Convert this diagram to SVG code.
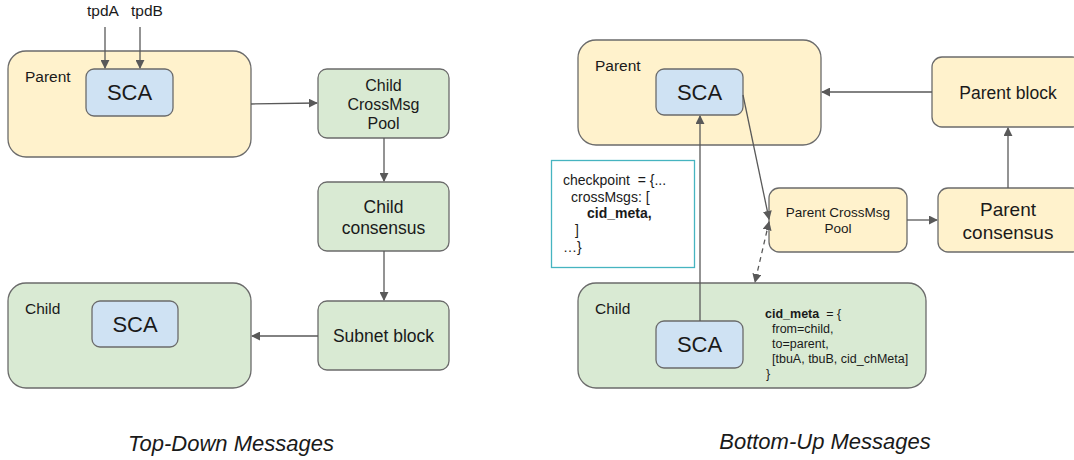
<svg xmlns="http://www.w3.org/2000/svg" width="1074" height="460" viewBox="0 0 1074 460">
  <defs>
    <marker id="arr" viewBox="0 0 10 10" refX="9" refY="5" markerWidth="9" markerHeight="9" markerUnits="userSpaceOnUse" orient="auto-start-reverse">
      <path d="M0,0 L10,5 L0,10 z" fill="#595959"/>
    </marker>
    <style>
      text { font-family: "Liberation Sans", Arial, sans-serif; fill: #1a1a1a; white-space: pre; }
      .yel { fill: #fff2cc; stroke: #6b6b6b; stroke-width: 1.3; }
      .grn { fill: #d9ead3; stroke: #6b6b6b; stroke-width: 1.3; }
      .blu { fill: #cfe2f3; stroke: #6b6b6b; stroke-width: 1.3; }
      .ln { fill: none; stroke: #595959; stroke-width: 1.3; }
      .dash { stroke-dasharray: 5 4; }
      .lbl { font-size: 15.5px; }
      .sca { font-size: 22px; text-anchor: middle; }
      .mid { text-anchor: middle; }
      .cap { font-size: 22px; font-style: italic; text-anchor: middle; }
      .code { font-size: 14px; }
      .b { font-weight: bold; }
    </style>
  </defs>

  <!-- Top-down side -->
  <g id="td-parent">
    <rect class="yel" x="8" y="51" width="243" height="106" rx="18"/>
    <text class="lbl" x="25" y="82">Parent</text>
  </g>
  <g id="td-parent-sca">
    <rect class="blu" x="86" y="69" width="87" height="47" rx="8"/>
    <text class="sca" x="129.5" y="100">SCA</text>
  </g>
  <g id="td-tpda"><text class="lbl mid" x="103" y="16">tpdA</text></g>
  <g id="td-tpdb"><text class="lbl mid" x="147" y="16">tpdB</text></g>
  <g id="td-pool">
    <rect class="grn" x="318" y="69" width="131" height="69" rx="9"/>
    <text class="mid" font-size="16" x="383.5" y="91">Child</text>
    <text class="mid" font-size="16" x="383.5" y="110">CrossMsg</text>
    <text class="mid" font-size="16" x="383.5" y="129">Pool</text>
  </g>
  <g id="td-consensus">
    <rect class="grn" x="318" y="182" width="131" height="69" rx="9"/>
    <text class="mid" font-size="17.5" x="383.5" y="213">Child</text>
    <text class="mid" font-size="17.5" x="383.5" y="234">consensus</text>
  </g>
  <g id="td-block">
    <rect class="grn" x="318" y="301" width="131" height="69" rx="9"/>
    <text class="mid" font-size="17.5" x="383.5" y="342">Subnet block</text>
  </g>
  <g id="td-child">
    <rect class="grn" x="8" y="283" width="243" height="105" rx="18"/>
    <text class="lbl" x="25" y="314">Child</text>
  </g>
  <g id="td-child-sca">
    <rect class="blu" x="92" y="301" width="86" height="46" rx="8"/>
    <text class="sca" x="135" y="332">SCA</text>
  </g>
  <g id="td-caption"><text class="cap" x="231" y="451">Top-Down Messages</text></g>

  <!-- Bottom-up side -->
  <g id="bu-parent">
    <rect class="yel" x="578" y="40" width="243" height="105" rx="18"/>
    <text class="lbl" x="595" y="71">Parent</text>
  </g>
  <g id="bu-parent-sca">
    <rect class="blu" x="656" y="69" width="87" height="46" rx="8"/>
    <text class="sca" x="699.5" y="100">SCA</text>
  </g>
  <g id="bu-parent-block">
    <rect class="yel" x="932" y="57" width="150" height="70" rx="10"/>
    <text class="mid" font-size="17.5" x="1008" y="99">Parent block</text>
  </g>
  <g id="bu-consensus">
    <rect class="yel" x="938" y="188" width="144" height="64" rx="10"/>
    <text class="mid" font-size="19" x="1008" y="216">Parent</text>
    <text class="mid" font-size="19" x="1008" y="239">consensus</text>
  </g>
  <g id="bu-pool">
    <rect class="yel" x="769" y="188" width="138" height="64" rx="10"/>
    <text class="mid" font-size="13.5" x="838" y="217">Parent CrossMsg</text>
    <text class="mid" font-size="13.5" x="838" y="233">Pool</text>
  </g>
  <g id="bu-checkpoint">
    <rect x="551.5" y="160.5" width="143" height="107" fill="#ffffff" stroke="#46b4c0" stroke-width="1.3"/>
    <text class="code" x="563" y="185">checkpoint  = {...</text>
    <text class="code" x="571" y="202">crossMsgs: [</text>
    <text class="code b" x="587" y="218">cid_meta,</text>
    <text class="code" x="575" y="235">]</text>
    <text class="code" x="563" y="252">…}</text>
  </g>
  <g id="bu-child">
    <rect class="grn" x="578" y="283" width="348" height="105" rx="18"/>
    <text class="lbl" x="595" y="314">Child</text>
    <text font-size="12.5" x="765" y="318"><tspan class="b">cid_meta</tspan>  = {</text>
    <text font-size="12.5" x="772" y="333">from=child,</text>
    <text font-size="12.5" x="772" y="348">to=parent,</text>
    <text font-size="12.5" x="772" y="363">[tbuA, tbuB, cid_chMeta]</text>
    <text font-size="12.5" x="766" y="378">}</text>
  </g>
  <g id="bu-child-sca">
    <rect class="blu" x="656" y="321" width="87" height="47" rx="8"/>
    <text class="sca" x="699.5" y="352">SCA</text>
  </g>
  <g id="bu-caption"><text class="cap" x="825" y="449">Bottom-Up Messages</text></g>

  <!-- Connectors -->
  <g id="connectors">
    <line class="ln" x1="105" y1="27" x2="105" y2="68" marker-end="url(#arr)"/>
    <line class="ln" x1="140" y1="27" x2="140" y2="68" marker-end="url(#arr)"/>
    <line class="ln" x1="251" y1="104" x2="317" y2="103" marker-end="url(#arr)"/>
    <line class="ln" x1="384" y1="138" x2="384" y2="181" marker-end="url(#arr)"/>
    <line class="ln" x1="384" y1="251" x2="384" y2="300" marker-end="url(#arr)"/>
    <line class="ln" x1="318" y1="336" x2="252" y2="336" marker-end="url(#arr)"/>

    <line class="ln" x1="932" y1="92" x2="822" y2="92" marker-end="url(#arr)"/>
    <line class="ln" x1="1008" y1="188" x2="1008" y2="128" marker-end="url(#arr)"/>
    <line class="ln" x1="907" y1="220" x2="937" y2="220" marker-end="url(#arr)"/>
    <line class="ln" x1="743" y1="95" x2="769" y2="219" marker-end="url(#arr)"/>
    <line class="ln dash" x1="769" y1="222" x2="755" y2="282" marker-start="url(#arr)" marker-end="url(#arr)"/>
    <line class="ln" x1="700" y1="321" x2="700" y2="116" marker-end="url(#arr)"/>
  </g>
</svg>
